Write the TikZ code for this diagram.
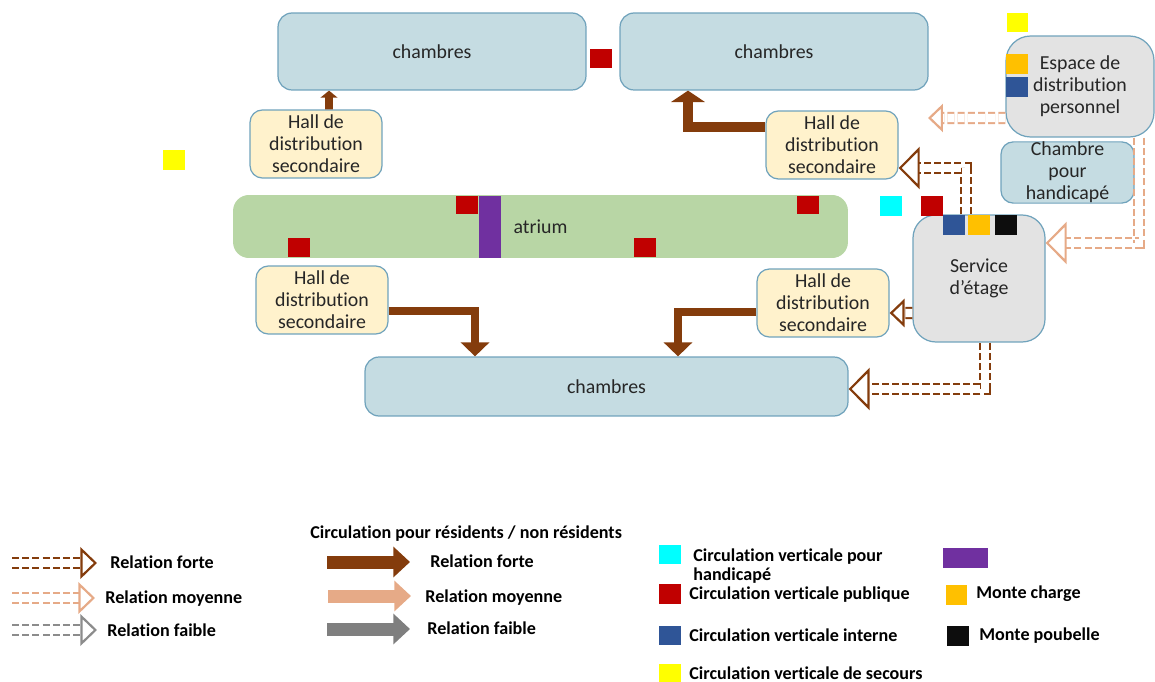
\documentclass[tikz,border=0pt]{standalone}
\usepackage{fontspec}
\setmainfont[Ligatures={NoCommon,NoRequired,NoContextual}]{Carlito}
\usetikzlibrary{arrows.meta, positioning}

\definecolor{brunfort}{RGB}{132,60,12}
\definecolor{saumon}{RGB}{230,170,135}
\definecolor{grisrel}{RGB}{127,127,127}
\definecolor{grisdash}{RGB}{140,140,140}
\definecolor{bleuclair}{RGB}{197,220,226}
\definecolor{bordbleu}{RGB}{112,163,188}
\definecolor{creme}{RGB}{255,242,204}
\definecolor{vertatrium}{RGB}{184,214,165}
\definecolor{grisboite}{RGB}{227,227,227}
\definecolor{rougecv}{RGB}{192,0,0}
\definecolor{bleucv}{RGB}{47,85,151}
\definecolor{orangecv}{RGB}{255,192,0}
\definecolor{noircv}{RGB}{13,13,13}
\definecolor{jaunecv}{RGB}{255,255,0}
\definecolor{cyancv}{RGB}{0,255,255}
\definecolor{violetcv}{RGB}{112,48,160}

\begin{document}
\begin{tikzpicture}[x=0.02cm, y=-0.02cm,
  boite/.style={draw=bordbleu, line width=0.7pt, align=center, inner sep=0pt,
    text=black!85, font=\fontsize{11.3}{12.6}\selectfont},
  chambre/.style={boite, fill=bleuclair, rounded corners=8pt},
  hall/.style={boite, fill=creme, rounded corners=7pt, minimum width=2.64cm, minimum height=1.36cm},
  grise/.style={boite, fill=grisboite, rounded corners=13pt},
  forte/.style={draw=brunfort, line width=5pt, -{Triangle[length=8pt, width=16pt]}},
  rel/.style={draw=#1, line width=1.25pt, dash pattern=on 4pt off 1.8pt, double=white,
    double distance=4.6pt, -{Triangle[length=12pt, width=24pt, line width=1.25pt, fill=white]}},
  petite/.style={-{Triangle[length=8.5pt, width=16pt, line width=1.25pt, fill=white]}},
  moyenne/.style={-{Triangle[length=9.5pt, width=18pt, line width=1.25pt, fill=white]}},
  plein/.style={draw=#1, line width=7.4pt, -{Triangle[length=9.5pt, width=17pt]}},
  legende/.style={anchor=west, inner sep=0pt, align=left,
    font=\fontsize{10.3}{10.8}\selectfont\bfseries}
]
  \useasboundingbox (0,0) rectangle (1155,682);

  % chambres
  \node[chambre, minimum width=6.16cm, minimum height=1.54cm] (ch1) at (432,51.5) {chambres};
  \node[chambre, minimum width=6.16cm, minimum height=1.54cm] (ch2) at (774,51.5) {chambres};
  \node[chambre, minimum width=9.66cm, minimum height=1.18cm] (ch3) at (606.5,386.5) {chambres};

  % halls de distribution
  \node[hall] (hall1) at (316,144) {Hall de\\distribution\\secondaire};
  \node[hall] (hall2) at (832,145) {Hall de\\distribution\\secondaire};
  \node[hall] (hall3) at (322,300) {Hall de\\distribution\\secondaire};
  \node[hall] (hall4) at (823,303) {Hall de\\distribution\\secondaire};

  % atrium
  \node[boite, draw=none, fill=vertatrium, rounded corners=9pt,
    minimum width=12.3cm, minimum height=1.26cm] (atrium) at (540.5,226.5) {atrium};

  % services
  \node[grise, minimum width=2.64cm, minimum height=2.54cm] (service) at (979,278.5) {Service\\d’étage};
  \node[grise, rounded corners=14pt, minimum width=2.96cm, minimum height=2.02cm] (espace) at (1080,86.5) {Espace de\\distribution\\personnel};
  \node[chambre, rounded corners=7pt, minimum width=2.66cm, minimum height=1.18cm] (handi) at (1067.5,172.5) {Chambre\\pour\\handicapé};

  % circulations verticales
  \fill[rougecv] (590,49) rectangle (612,68);
  \fill[rougecv] (456,196) rectangle (478,214);
  \fill[rougecv] (797,196) rectangle (819,214);
  \fill[rougecv] (288,238) rectangle (310,257);
  \fill[rougecv] (634,238) rectangle (656,257);
  \fill[violetcv] (479,196) rectangle (501,258);
  \fill[jaunecv] (163,150) rectangle (185,170);
  \fill[jaunecv] (1007,13) rectangle (1028,32);
  \fill[cyancv] (880,196) rectangle (902,216);
  \fill[rougecv] (921,196) rectangle (943,216);
  \fill[bleucv] (943,215) rectangle (965,235);
  \fill[orangecv] (968,215) rectangle (990,235);
  \fill[noircv] (995,215) rectangle (1017,235);
  \fill[orangecv] (1006,54) rectangle (1028,74);
  \fill[bleucv] (1006,77) rectangle (1028,97);

  % relations fortes (circulation residents)
  \draw[forte, line width=4.4pt, -{Triangle[length=4pt, width=9.5pt]}]
    ([xshift=0.26cm]hall1.north) -- ([xshift=-2.06cm]ch1.south);
  \draw[forte, line width=5.6pt, -{Triangle[length=6.5pt, width=19pt]}]
    ([yshift=0.36cm]hall2.west) -| ([xshift=-1.72cm]ch2.south);
  \draw[forte] ([yshift=-0.22cm]hall3.east) -| ([xshift=-2.63cm]ch3.north);
  \draw[forte] ([yshift=-0.18cm]hall4.west) -| ([xshift=1.43cm]ch3.north);

  % relations de service
  \coordinate (finEsp) at (928,118);
  \draw[rel=saumon, petite] ([yshift=-0.63cm]espace.west) -- (finEsp);
  \draw[rel=saumon] ([xshift=1.18cm]espace.south) |- ([yshift=0.71cm]service.east);
  \draw[rel=brunfort] ([xshift=-0.26cm]service.north) |- ([yshift=-0.46cm]hall2.east);
  \draw[rel=brunfort, petite] ([yshift=-0.69cm]service.west) -- ([yshift=-0.2cm]hall4.east);
  \draw[rel=brunfort] ([xshift=0.12cm]service.south) |- ([yshift=-0.05cm]ch3.east);

  % legende : relations
  \coordinate (lgA1) at (12,563);  \coordinate (lgA2) at (97,563);
  \coordinate (lgB1) at (12,598);  \coordinate (lgB2) at (95,598);
  \coordinate (lgC1) at (12,630);  \coordinate (lgC2) at (97,630);
  \draw[rel=brunfort, moyenne] (lgA1) -- (lgA2);
  \draw[rel=saumon, moyenne] (lgB1) -- (lgB2);
  \draw[rel=grisdash, moyenne] (lgC1) -- (lgC2);
  \node[legende] (txA) at (110,562) {Relation forte};
  \node[legende] (txB) at (105,599) {Relation moyenne};
  \node[legende] (txC) at (107,630) {Relation faible};

  \node[legende] (titre) at (310,534) {Circulation pour résidents / non résidents};
  \coordinate (lgD1) at (327,562);  \coordinate (lgD2) at (410,562);
  \coordinate (lgE1) at (328,596);  \coordinate (lgE2) at (411,596);
  \coordinate (lgF1) at (327,629);  \coordinate (lgF2) at (410,629);
  \draw[plein=brunfort] (lgD1) -- (lgD2);
  \draw[plein=saumon] (lgE1) -- (lgE2);
  \draw[plein=grisrel] (lgF1) -- (lgF2);
  \node[legende] (txD) at (430,561) {Relation forte};
  \node[legende] (txE) at (425,598) {Relation moyenne};
  \node[legende] (txF) at (427,628) {Relation faible};

  % legende : circulations verticales
  \fill[cyancv] (659,545) rectangle (681,564);
  \fill[rougecv] (659,584) rectangle (681,604);
  \fill[bleucv] (659,626) rectangle (681,645);
  \fill[jaunecv] (659,664) rectangle (681,682);
  \fill[violetcv] (943,548) rectangle (988,568);
  \fill[orangecv] (946,585) rectangle (967,605);
  \fill[noircv] (947,626) rectangle (969,646);
  \node[legende] (txG) at (693,566.5) {Circulation verticale pour\\handicapé};
  \node[legende] (txH) at (689,595) {Circulation verticale publique};
  \node[legende] (txI) at (689,635) {Circulation verticale interne};
  \node[legende] (txJ) at (689,673) {Circulation verticale de secours};
  \node[legende] (txK) at (976,594) {Monte charge};
  \node[legende] (txL) at (979,636) {Monte poubelle};
\end{tikzpicture}
\end{document}
